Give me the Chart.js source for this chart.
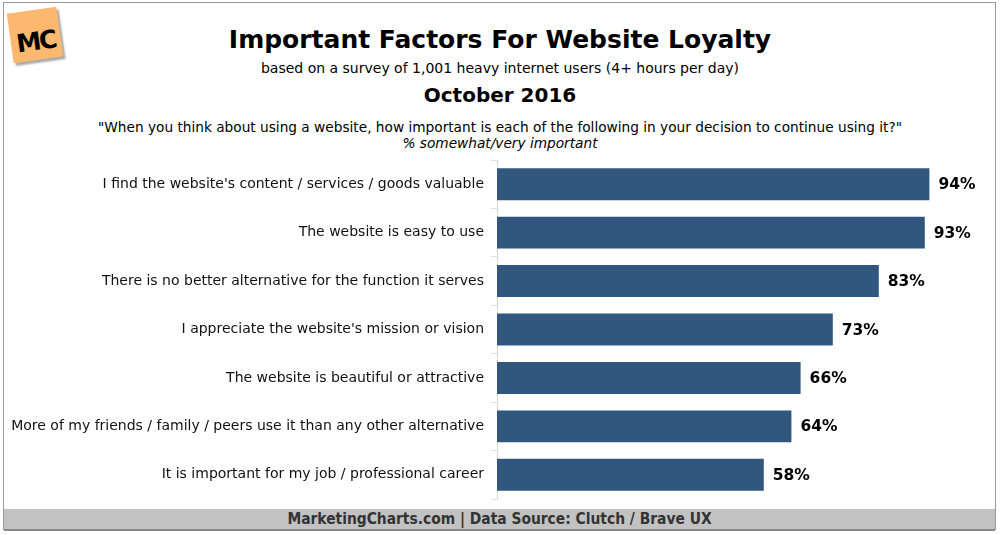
<!DOCTYPE html>
<html>
<head>
<meta charset="utf-8">
<script src="https://cdn.jsdelivr.net/npm/chart.js@4"></script>
<style>
  html, body { margin: 0; padding: 0; background: #fff; }
  #wrap { position: relative; width: 1000px; height: 535px; overflow: hidden; }
  #frame { position: absolute; left: 3px; top: 2px; width: 993px; height: 528px; border: 1px solid #999; box-sizing: border-box; }
  .t { position: absolute; left: 0; width: 1000px; text-align: center; color: #000; white-space: nowrap; }
  #title { top: 25px; font: bold 25px "DejaVu Sans", sans-serif; }
  #sub { top: 60px; font: 14px "DejaVu Sans", sans-serif; }
  #date { top: 83px; font: bold 20px "DejaVu Sans", sans-serif; }
  #q { top: 119px; font: 13.7px "DejaVu Sans", sans-serif; }
  #q2 { top: 135px; font: italic 13.7px "DejaVu Sans", sans-serif; }
  #foot { position: absolute; left: 4px; top: 509px; width: 991px; height: 20px; background: #c2c2c2; border-bottom: 2px solid #888;
          text-align: center; font: bold 15.4px "DejaVu Sans Condensed", sans-serif; color: #333; line-height: 21px; }
  #logo { position: absolute; left: 10px; top: 10px; width: 50px; height: 50px; background: #fdb870; transform: rotate(-8deg);
          box-shadow: 2px 3px 2px #aaa; font: bold 25px "DejaVu Sans", sans-serif; color: #000; text-align: center; line-height: 64px; letter-spacing: -2px; }
  canvas { position: absolute; left: 0; top: 0; }
</style>
</head>
<body>
<div id="wrap">
  <div id="frame"></div>
  <div id="logo">MC</div>
  <div class="t" id="title">Important Factors For Website Loyalty</div>
  <div class="t" id="sub">based on a survey of 1,001 heavy internet users (4+ hours per day)</div>
  <div class="t" id="date">October 2016</div>
  <div class="t" id="q">"When you think about using a website, how important is each of the following in your decision to continue using it?"</div>
  <div class="t" id="q2">% somewhat/very important</div>
  <div id="foot">MarketingCharts.com | Data Source: Clutch / Brave UX</div>
  <canvas id="myChart" width="1000" height="535"></canvas>
</div>
<script>
const factors = [
  "I find the website's content / services / goods valuable",
  "The website is easy to use",
  "There is no better alternative for the function it serves",
  "I appreciate the website's mission or vision",
  "The website is beautiful or attractive",
  "More of my friends / family / peers use it than any other alternative",
  "It is important for my job / professional career"
];
const importantPct = [94, 93, 83, 73, 66, 64, 58];

const valueLabels = {
  id: 'valueLabels',
  afterDatasetsDraw(chart) {
    const ctx = chart.ctx;
    const meta = chart.getDatasetMeta(0);
    ctx.save();
    ctx.font = 'bold 15.5px "DejaVu Sans", sans-serif';
    ctx.fillStyle = '#000';
    ctx.textBaseline = 'middle';
    meta.data.forEach((bar, i) => {
      ctx.fillText(importantPct[i] + '%', bar.x + 9, bar.y + 1);
    });
    ctx.restore();
  }
};

function renderChart() {
  const ctx = document.getElementById('myChart');
  new Chart(ctx, {
    type: 'bar',
    data: {
      labels: factors,
      datasets: [{
        data: importantPct,
        backgroundColor: '#32577f',
        borderWidth: 0,
        barPercentage: 0.66,
        categoryPercentage: 1
      }]
    },
    options: {
      indexAxis: 'y',
      responsive: false,
      animation: false,
      layout: { padding: { top: 160, bottom: 36, right: 43, left: 0 } },
      plugins: { legend: { display: false }, tooltip: { enabled: false } },
      scales: {
        x: { display: false, min: 0, max: 100 },
        y: {
          afterFit(scale) { scale.width = 497; },
          grid: { drawOnChartArea: false, tickLength: 6, color: '#e0e0e0' },
          border: { color: '#d8d8d8' },
          ticks: { color: '#111', font: { family: 'DejaVu Sans', size: 14 }, padding: 7 }
        }
      }
    },
    plugins: [valueLabels]
  });
}

renderChart();
</script>
</body>
</html>
